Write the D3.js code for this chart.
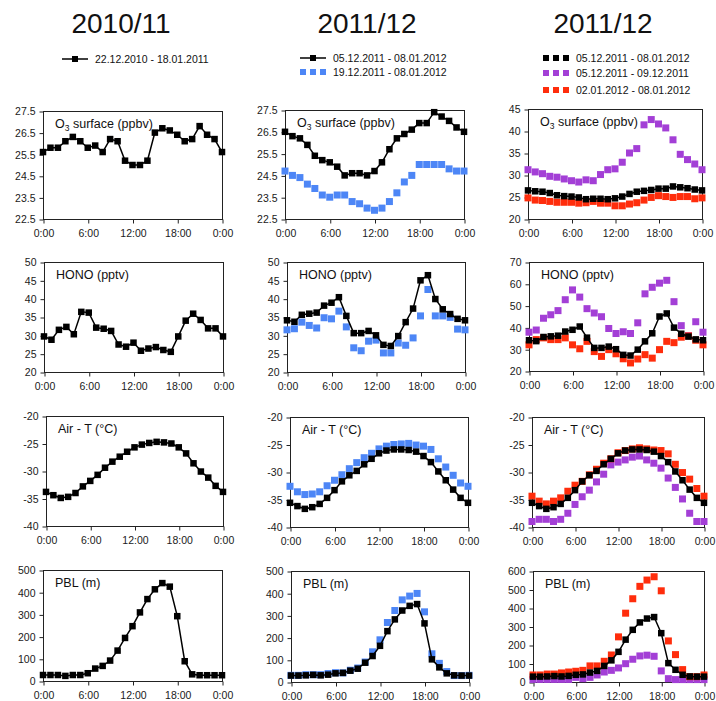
<!DOCTYPE html>
<html><head><meta charset="utf-8">
<script src="https://cdn.jsdelivr.net/npm/d3@7"></script>
<style>body{margin:0;background:#fff}svg{display:block}</style>
</head><body>
<svg id="chart" width="716" height="701"></svg>
<script>
// Hour of day (0:00 .. next 0:00)
const hours = [0,1,2,3,4,5,6,7,8,9,10,11,12,13,14,15,16,17,18,19,20,21,22,23,24];
const hourTicks = [0,6,12,18,24];
const hourTickLabels = ["0:00","6:00","12:00","18:00","0:00"];
const columnTitles = ["2010/11","2011/12","2011/12"];
const periodLabels = ["22.12.2010 - 18.01.2011","05.12.2011 - 08.01.2012","19.12.2011 - 08.01.2012","05.12.2011 - 09.12.2011","02.01.2012 - 08.01.2012"];

// O3 surface (ppbv)
const o3_2010 = [25.6,25.8,25.8,26.1,26.3,26.1,25.8,25.9,25.6,26.2,26.1,25.2,25.0,25.0,25.2,26.5,26.7,26.6,26.4,26.1,26.2,26.8,26.4,26.2,25.6];
const o3_2011All = [26.5,26.3,26.2,25.9,25.4,25.2,25.1,24.9,24.5,24.6,24.6,24.5,24.7,25.1,25.7,26.2,26.4,26.6,26.9,26.9,27.4,27.2,27.0,26.7,26.5];
const o3_2011Late = [24.7,24.5,24.4,24.1,23.9,23.6,23.5,23.6,23.6,23.3,23.2,23.0,22.9,23.0,23.3,23.7,24.2,24.5,25.0,25.0,25.0,25.0,24.8,24.7,24.7];
const o3_2011Early = [31.2,30.7,30.3,29.7,29.5,29.1,28.7,28.4,28.9,28.7,30.1,31.2,31.4,32.9,35.0,36.0,41.4,42.6,41.6,40.7,38.0,34.7,33.5,32.5,31.2];
const o3_2012Jan = [24.8,24.3,24.2,24.0,23.8,23.8,23.8,23.6,23.7,24.0,23.6,23.6,23.0,23.0,23.4,23.7,24.3,24.9,25.3,25.1,24.9,25.1,25.1,24.6,24.8];

// HONO (pptv)
const hono_2010 = [29.7,28.8,31.5,32.3,30.3,36.4,36.2,32.1,31.8,31.2,27.5,26.9,28.0,25.8,26.4,26.8,26.0,25.5,29.7,34.0,35.9,34.2,31.9,31.9,29.7];
const hono_2011All = [34.1,33.7,35.6,35.9,36.2,38.1,38.9,40.4,35.3,30.6,30.6,31.2,30.0,27.4,27.1,29.8,33.6,37.3,45.0,46.4,39.9,37.1,35.8,34.5,34.1];
const hono_2011Late = [31.5,31.8,33.6,32.7,32.0,34.8,34.5,36.6,32.3,26.6,25.8,28.4,28.7,25.2,25.2,27.9,27.3,29.3,35.3,42.5,35.3,35.3,34.9,31.7,31.5];
const hono_2011Early = [37.8,38.8,44.2,45.8,47.7,52.7,57.2,53.9,48.6,46.6,44.9,39.5,37.2,38.0,37.2,42.1,55.4,58.4,60.3,61.6,51.8,40.8,36.2,42.6,37.8];
const hono_2012Jan = [32.0,34.4,35.2,34.4,34.4,35.2,32.0,30.2,33.6,28.9,26.7,29.8,27.9,25.6,23.7,25.5,27.5,25.9,29.8,33.6,33.0,35.5,36.1,34.1,32.0];

// Air temperature (°C)
const airT_2010 = [-33.8,-34.4,-34.9,-34.7,-34.0,-32.8,-31.8,-30.7,-29.4,-28.3,-27.4,-26.5,-25.7,-25.2,-24.9,-24.7,-24.8,-25.0,-25.7,-26.8,-28.6,-30.1,-31.2,-32.7,-33.8];
const airT_2011All = [-35.6,-36.2,-36.7,-36.4,-35.8,-34.7,-33.3,-31.7,-30.6,-29.8,-28.6,-27.6,-26.6,-26.1,-25.9,-25.9,-26.0,-26.3,-27.1,-28.2,-29.9,-31.5,-33.2,-34.7,-35.6];
const airT_2011Late = [-32.6,-33.6,-34.1,-34.0,-33.6,-32.5,-31.5,-30.5,-29.4,-28.3,-27.4,-26.6,-25.8,-25.3,-25.0,-24.9,-24.8,-25.1,-25.3,-25.9,-27.6,-29.1,-30.6,-32.0,-32.6];
const airT_2011Early = [-39.0,-38.6,-38.6,-39.0,-38.6,-37.5,-35.9,-34.5,-33.3,-31.8,-30.4,-28.7,-28.2,-27.8,-27.3,-27.1,-27.8,-28.4,-29.3,-31.1,-32.8,-34.9,-37.5,-39.0,-39.0];
const airT_2012Jan = [-34.4,-35.3,-35.8,-35.3,-34.7,-33.5,-32.4,-31.7,-30.5,-29.5,-28.4,-27.6,-26.5,-26.1,-25.8,-25.6,-25.8,-26.0,-26.1,-26.7,-28.6,-30.1,-31.3,-33.0,-34.4];

// Planetary boundary layer height (m)
const pbl_2010 = [27,27,27,23,27,27,35,56,68,92,137,194,247,309,369,413,441,425,292,89,30,26,26,26,26];
const pbl_2011All = [29,29,30,32,30,33,39,41,51,60,87,117,163,229,282,322,343,351,264,102,66,39,30,29,29];
const pbl_2011Late = [30,30,33,33,33,38,42,41,53,63,90,136,190,268,322,370,387,399,316,127,84,47,29,29,30];
const pbl_2011Early = [14,14,14,14,14,14,25,18,25,38,54,63,76,99,123,141,145,139,60,18,13,13,13,13,13];
const pbl_2012Jan = [38,38,43,43,49,54,58,63,87,87,112,146,244,372,450,517,551,569,493,222,148,67,29,29,38];

// Y-axis ticks per panel
const o3TicksA = [22.5,23.5,24.5,25.5,26.5,27.5];
const o3TicksB = [20,25,30,35,40,45];
const honoTicksA = [20,25,30,35,40,45,50];
const honoTicksB = [20,30,40,50,60,70];
const airTTicks = [-40,-35,-30,-25,-20];
const pblTicksA = [0,100,200,300,400,500];
const pblTicksB = [0,100,200,300,400,500,600];

const COLORS = {black:"#000000", blue:"#4d86f6", purple:"#a33fd6", red:"#ff2d0c"};
const FONT = "'Liberation Sans',Arial,sans-serif";

const S = (values, color, line) => ({values, color, line});

const panels = [
  {box:[43,222,111,219], yTicks:o3TicksA, fmt:d3.format(".1f"), label:"o3",
   series:[S(o3_2010,"black",true)]},
  {box:[285,464,110,219], yTicks:o3TicksA, fmt:d3.format(".1f"), label:"o3",
   series:[S(o3_2011Late,"blue",false), S(o3_2011All,"black",true)]},
  {box:[528,702,109,219], yTicks:o3TicksB, fmt:String, label:"o3",
   series:[S(o3_2011Early,"purple",false), S(o3_2012Jan,"red",false), S(o3_2011All,"black",true)]},

  {box:[44,223,262,372], yTicks:honoTicksA, fmt:String, label:"HONO (pptv)",
   series:[S(hono_2010,"black",true)]},
  {box:[287,465,262,372], yTicks:honoTicksA, fmt:String, label:"HONO (pptv)",
   series:[S(hono_2011Late,"blue",false), S(hono_2011All,"black",true)]},
  {box:[529,703,262,371], yTicks:honoTicksB, fmt:String, label:"HONO (pptv)",
   series:[S(hono_2011Early,"purple",false), S(hono_2012Jan,"red",false), S(hono_2011All,"black",true)]},

  {box:[46,223,416,526], yTicks:airTTicks, fmt:String, label:"Air - T (°C)",
   series:[S(airT_2010,"black",true)]},
  {box:[290,468,417,527], yTicks:airTTicks, fmt:String, label:"Air - T (°C)",
   series:[S(airT_2011Late,"blue",false), S(airT_2011All,"black",true)]},
  {box:[532,704,417,527], yTicks:airTTicks, fmt:String, label:"Air - T (°C)",
   series:[S(airT_2011Early,"purple",false), S(airT_2012Jan,"red",false), S(airT_2011All,"black",true)]},

  {box:[43,222,570,681], yTicks:pblTicksA, fmt:String, label:"PBL (m)",
   series:[S(pbl_2010,"black",true)]},
  {box:[291,469,571,682], yTicks:pblTicksA, fmt:String, label:"PBL (m)",
   series:[S(pbl_2011Late,"blue",false), S(pbl_2011All,"black",true)]},
  {box:[533,704,571,682], yTicks:pblTicksB, fmt:String, label:"PBL (m)",
   series:[S(pbl_2011Early,"purple",false), S(pbl_2012Jan,"red",false), S(pbl_2011All,"black",true)]}
];

const svg = d3.select("#chart");

function drawPanel(p) {
  const [x0, x1, y0, y1] = p.box;
  const yt = p.yTicks;
  const x = d3.scaleLinear().domain([hours[0], hours[hours.length - 1]]).range([x0, x1]);
  const y = d3.scaleLinear().domain([yt[0], yt[yt.length - 1]]).range([y1, y0]);
  const g = svg.append("g");

  g.append("rect")
    .attr("x", x0 + 0.5).attr("y", y0 + 0.5)
    .attr("width", x1 - x0).attr("height", y1 - y0)
    .attr("fill", "none").attr("stroke", "#222").attr("stroke-width", 1);

  const xa = g.append("g").attr("transform", `translate(0.5,${y1 + 0.5})`)
    .call(d3.axisBottom(x).tickValues(hourTicks)
      .tickFormat((d, i) => hourTickLabels[i]).tickSize(4).tickPadding(6));
  const ya = g.append("g").attr("transform", `translate(${x0 + 0.5},0.5)`)
    .call(d3.axisLeft(y).tickValues(yt).tickFormat(p.fmt).tickSize(4).tickPadding(4));
  [xa, ya].forEach(a => {
    a.select(".domain").remove();
    a.selectAll("line").attr("stroke", "#222");
    a.selectAll("text").attr("fill", "#1a1a1a")
      .style("font-family", FONT).style("font-size", "10.5px");
  });

  // panel label
  const lab = g.append("text").attr("x", x0 + 12).attr("y", y0 + 17)
    .style("font-family", FONT).style("font-size", "12.5px").attr("fill", "#111");
  if (p.label === "o3") {
    lab.append("tspan").text("O");
    lab.append("tspan").text("3").attr("dy", 3).style("font-size", "8.5px");
    lab.append("tspan").text(" surface (ppbv)").attr("dy", -3);
  } else {
    lab.text(p.label);
  }

  p.series.forEach(s => {
    const col = COLORS[s.color];
    if (s.line) {
      g.append("path").datum(s.values)
        .attr("fill", "none").attr("stroke", col).attr("stroke-width", 1.5)
        .attr("d", d3.line().x((d, i) => x(hours[i])).y(d => y(d)));
    }
    const sz = s.line ? 6.5 : 7;
    g.selectAll(null).data(s.values).join("rect")
      .attr("x", (d, i) => x(hours[i]) - sz / 2)
      .attr("y", d => y(d) - sz / 2)
      .attr("width", sz).attr("height", sz)
      .attr("fill", col);
  });
}

panels.forEach(drawPanel);

// Column titles
const titleX = [121, 367, 603];
columnTitles.forEach((t, i) => {
  svg.append("text").attr("x", titleX[i]).attr("y", 33)
    .attr("text-anchor", "middle")
    .style("font-family", FONT).style("font-size", "28px").attr("fill", "#111")
    .text(t);
});

// Legends
function legendItem(cx, cy, color, line, text) {
  const g = svg.append("g");
  const col = COLORS[color];
  if (line) {
    g.append("line").attr("x1", cx - 13).attr("x2", cx + 13).attr("y1", cy).attr("y2", cy)
      .attr("stroke", col).attr("stroke-width", 1.5);
    g.append("rect").attr("x", cx - 3).attr("y", cy - 3).attr("width", 6).attr("height", 6).attr("fill", col);
  } else {
    [-10, 0, 10].forEach(dx => g.append("rect")
      .attr("x", cx + dx - 3).attr("y", cy - 3).attr("width", 6).attr("height", 6).attr("fill", col));
  }
  g.append("text").attr("x", cx + 20).attr("y", cy + 4)
    .style("font-family", FONT).style("font-size", "10.5px").attr("fill", "#111")
    .text(text);
}
legendItem(75, 59, "black", true, periodLabels[0]);
legendItem(313, 58, "black", true, periodLabels[1]);
legendItem(313, 72, "blue", false, periodLabels[2]);
legendItem(556, 58, "black", false, periodLabels[1]);
legendItem(556, 73, "purple", false, periodLabels[3]);
legendItem(556, 90, "red", false, periodLabels[4]);
</script>
</body></html>
